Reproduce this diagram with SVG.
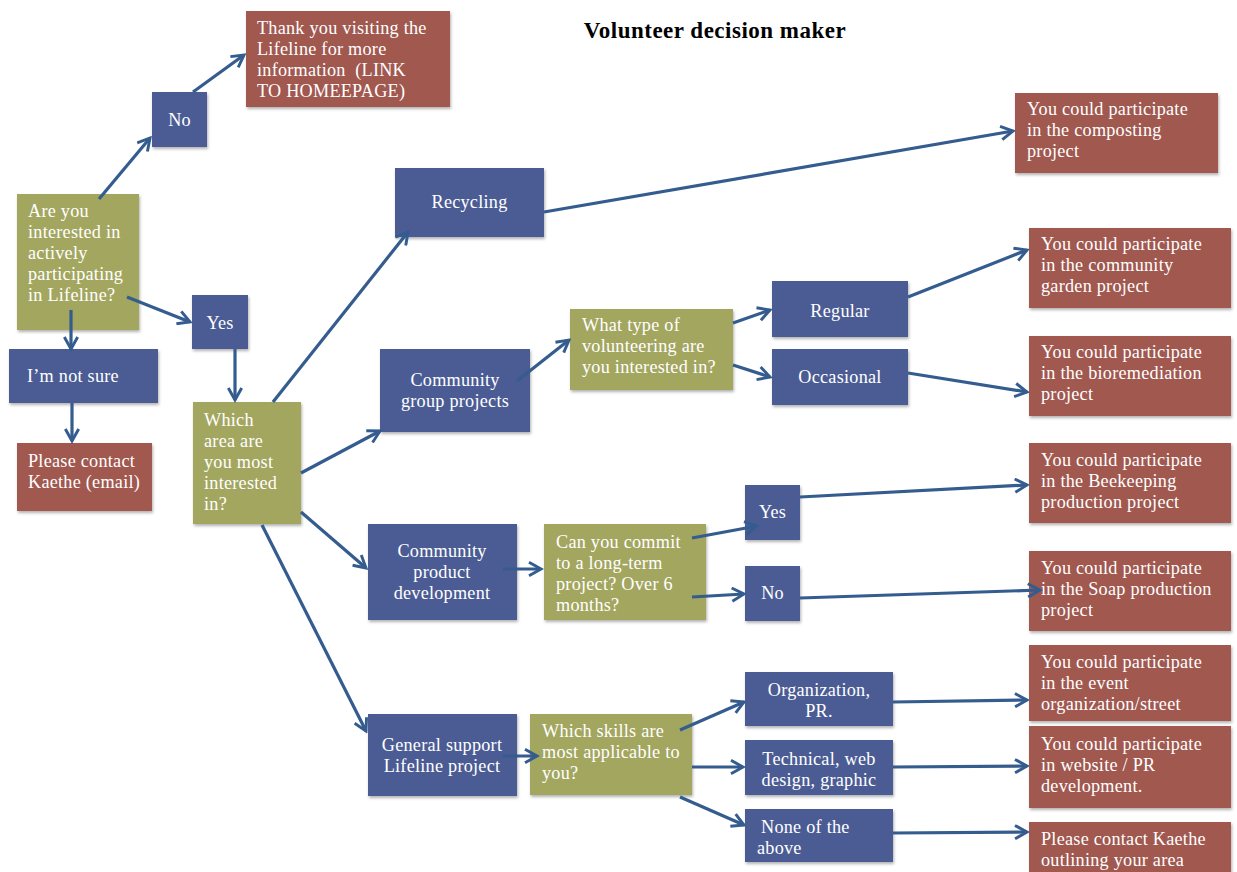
<svg xmlns="http://www.w3.org/2000/svg" width="1237" height="872" viewBox="0 0 1237 872">
<defs>
<style>
.blue{fill:#4b5b94}
.red{fill:#a0584f}
.green{fill:#a3a65f}
rect{filter:url(#sh)}
text{font-family:"Liberation Serif","Times New Roman",serif;font-size:18.2px;letter-spacing:0.25px;fill:#ffffff}
.c{text-anchor:middle}
.title{font-size:23px;font-weight:bold;letter-spacing:0.5px;fill:#000000;text-anchor:middle}
.conn line{stroke:#345c8f;stroke-width:3.2;fill:none;marker-end:url(#ah)}
</style>
<filter id="sh" x="-10%" y="-10%" width="125%" height="125%">
<feDropShadow dx="1" dy="2" stdDeviation="1.5" flood-color="#000" flood-opacity="0.3"/>
</filter>
<marker id="ah" viewBox="0 0 12 12" refX="10" refY="6" markerWidth="5" markerHeight="5" orient="auto" markerUnits="strokeWidth">
<path d="M1,1 L10,6 L1,11" fill="none" stroke="#345c8f" stroke-width="2.2" stroke-linejoin="miter"/>
</marker>
</defs>
<rect width="1237" height="872" fill="#ffffff" style="filter:none"/>
<text class="title" x="715" y="38">Volunteer decision maker</text>

<g id="n-thanks"><rect class="red" x="246" y="11" width="204" height="96"/>
<text x="257" y="34">Thank you visiting the</text><text x="257" y="55">Lifeline for more</text><text x="257" y="76">information &#160;(LINK</text><text x="257" y="97">TO HOMEEPAGE)</text></g>
<g id="n-no1"><rect class="blue" x="152" y="92" width="55" height="55"/><text class="c" x="179.5" y="126">No</text></g>
<g id="n-q1"><rect class="green" x="17" y="194" width="122" height="136"/>
<text x="28" y="217">Are you</text><text x="28" y="238">interested in</text><text x="28" y="259">actively</text><text x="28" y="280">participating</text><text x="28" y="301">in Lifeline?</text></g>
<g id="n-yes1"><rect class="blue" x="192" y="295" width="56" height="54"/><text class="c" x="220" y="329">Yes</text></g>
<g id="n-notsure"><rect class="blue" x="9" y="349" width="149" height="54"/><text x="27" y="382">I’m not sure</text></g>
<g id="n-kaethe1"><rect class="red" x="17" y="443" width="135" height="68"/><text x="28" y="467">Please contact</text><text x="28" y="488">Kaethe (email)</text></g>
<g id="n-q2"><rect class="green" x="193" y="402" width="108" height="122"/>
<text x="204" y="426">Which</text><text x="204" y="447">area are</text><text x="204" y="468">you most</text><text x="204" y="489">interested</text><text x="204" y="510">in?</text></g>
<g id="n-recycling"><rect class="blue" x="395" y="168" width="149" height="69"/><text class="c" x="469.5" y="208">Recycling</text></g>
<g id="n-cgp"><rect class="blue" x="380" y="349" width="150" height="83"/><text class="c" x="455" y="386">Community</text><text class="c" x="455" y="407">group projects</text></g>
<g id="n-q3"><rect class="green" x="570" y="309" width="163" height="81"/><text x="582" y="331">What type of</text><text x="582" y="352">volunteering are</text><text x="582" y="373">you interested in?</text></g>
<g id="n-regular"><rect class="blue" x="772" y="281" width="136" height="56"/><text class="c" x="840" y="317">Regular</text></g>
<g id="n-occasional"><rect class="blue" x="772" y="349" width="136" height="56"/><text class="c" x="840" y="383">Occasional</text></g>
<g id="n-cpd"><rect class="blue" x="368" y="524" width="149" height="96"/><text class="c" x="442" y="557">Community</text><text class="c" x="442" y="578">product</text><text class="c" x="442" y="599">development</text></g>
<g id="n-q4"><rect class="green" x="544" y="524" width="162" height="96"/><text x="556" y="548">Can you commit</text><text x="556" y="569">to a long-term</text><text x="556" y="590">project? Over 6</text><text x="556" y="611">months?</text></g>
<g id="n-yes2"><rect class="blue" x="745" y="485" width="55" height="55"/><text class="c" x="772.5" y="518">Yes</text></g>
<g id="n-no2"><rect class="blue" x="745" y="566" width="55" height="55"/><text class="c" x="772.5" y="599">No</text></g>
<g id="n-gs"><rect class="blue" x="368" y="714" width="149" height="82"/><text class="c" x="442" y="751">General support</text><text class="c" x="442" y="772">Lifeline project</text></g>
<g id="n-q5"><rect class="green" x="530" y="714" width="162" height="81"/><text x="542" y="737">Which skills are</text><text x="542" y="758">most applicable to</text><text x="542" y="779">you?</text></g>
<g id="n-org"><rect class="blue" x="745" y="672" width="148" height="54"/><text class="c" x="819" y="696">Organization,</text><text class="c" x="819" y="717">PR.</text></g>
<g id="n-tech"><rect class="blue" x="745" y="740" width="148" height="55"/><text class="c" x="819" y="765">Technical, web</text><text class="c" x="819" y="786">design, graphic</text></g>
<g id="n-none"><rect class="blue" x="745" y="809" width="148" height="53"/><text x="761" y="833">None of the</text><text x="757" y="854">above</text></g>
<g id="n-compost"><rect class="red" x="1015" y="93" width="203" height="80"/><text x="1027" y="115">You could participate</text><text x="1027" y="136">in the composting</text><text x="1027" y="157">project</text></g>
<g id="n-garden"><rect class="red" x="1029" y="228" width="202" height="80"/><text x="1041" y="250">You could participate</text><text x="1041" y="271">in the community</text><text x="1041" y="292">garden project</text></g>
<g id="n-biorem"><rect class="red" x="1029" y="336" width="202" height="80"/><text x="1041" y="358">You could participate</text><text x="1041" y="379">in the bioremediation</text><text x="1041" y="400">project</text></g>
<g id="n-bee"><rect class="red" x="1029" y="443" width="202" height="80"/><text x="1041" y="466">You could participate</text><text x="1041" y="487">in the Beekeeping</text><text x="1041" y="508">production project</text></g>
<g id="n-soap"><rect class="red" x="1029" y="551" width="202" height="80"/><text x="1041" y="574">You could participate</text><text x="1041" y="595">in the Soap production</text><text x="1041" y="616">project</text></g>
<g id="n-event"><rect class="red" x="1029" y="645" width="202" height="76"/><text x="1041" y="668">You could participate</text><text x="1041" y="689">in the event</text><text x="1041" y="710">organization/street</text></g>
<g id="n-web"><rect class="red" x="1029" y="726" width="202" height="82"/><text x="1041" y="750">You could participate</text><text x="1041" y="771">in website / PR</text><text x="1041" y="792">development.</text></g>
<g id="n-kaethe2"><rect class="red" x="1029" y="822" width="202" height="56"/><text x="1041" y="845">Please contact Kaethe</text><text x="1041" y="866">outlining your area</text></g>

<g id="connectors" class="conn">
<line x1="99" y1="199" x2="150" y2="138"/>
<line x1="193" y1="92" x2="244" y2="55"/>
<line x1="127" y1="297" x2="190" y2="322"/>
<line x1="71" y1="310" x2="71" y2="349"/>
<line x1="72" y1="403" x2="72" y2="441"/>
<line x1="235" y1="349" x2="235" y2="400"/>
<line x1="273" y1="402" x2="408" y2="232"/>
<line x1="301" y1="473" x2="380" y2="431"/>
<line x1="301" y1="512" x2="366" y2="568"/>
<line x1="262" y1="525" x2="366" y2="731"/>
<line x1="544" y1="212" x2="1013" y2="131"/>
<line x1="517" y1="381" x2="569" y2="340"/>
<line x1="733" y1="323" x2="770" y2="310"/>
<line x1="733" y1="365" x2="770" y2="377"/>
<line x1="908" y1="297" x2="1027" y2="250"/>
<line x1="908" y1="373" x2="1027" y2="392"/>
<line x1="503" y1="569" x2="541" y2="569"/>
<line x1="692" y1="538" x2="757" y2="526"/>
<line x1="692" y1="597" x2="744" y2="594"/>
<line x1="800" y1="497" x2="1027" y2="485"/>
<line x1="800" y1="598" x2="1040" y2="590"/>
<line x1="503" y1="756" x2="537" y2="756"/>
<line x1="680" y1="730" x2="744" y2="702"/>
<line x1="692" y1="767" x2="743" y2="767"/>
<line x1="680" y1="797" x2="744" y2="825"/>
<line x1="893" y1="702" x2="1027" y2="700"/>
<line x1="893" y1="767" x2="1027" y2="766"/>
<line x1="893" y1="833" x2="1027" y2="832"/>
</g>
</svg>
